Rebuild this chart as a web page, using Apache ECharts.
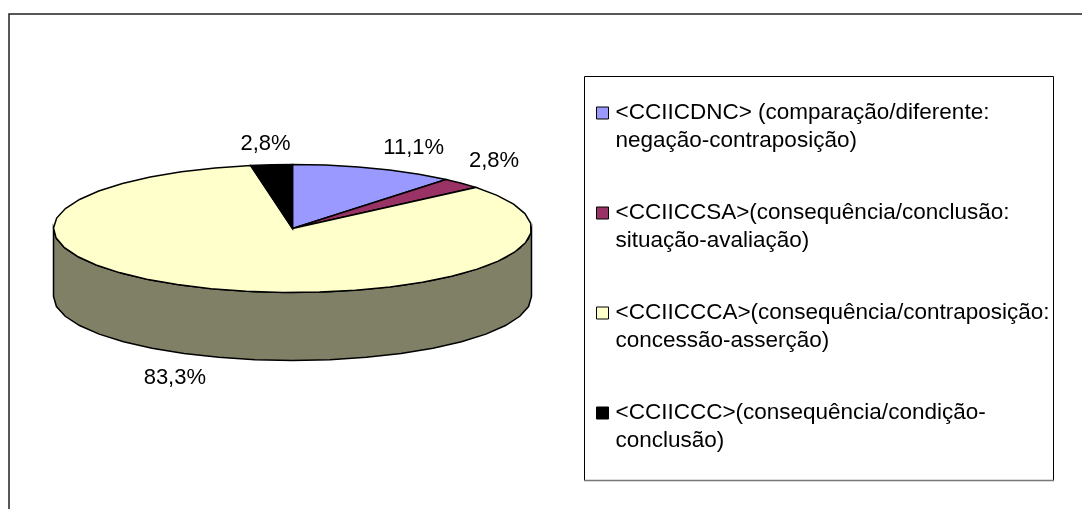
<!DOCTYPE html>
<html>
<head>
<meta charset="utf-8">
<style>
  html, body { margin: 0; background: #fff; }
  #chart { width: 1082px; height: 509px; }
</style>
<script src="https://cdn.jsdelivr.net/npm/echarts@6/dist/echarts.min.js"></script>
</head>
<body>
<div id="chart"></div>
<script>
const categories = [
  '<CCIICDNC> (comparação/diferente:\nnegação-contraposição)',
  '<CCIICCSA>(consequência/conclusão:\nsituação-avaliação)',
  '<CCIICCCA>(consequência/contraposição:\nconcessão-asserção)',
  '<CCIICCC>(consequência/condição-\nconclusão)'
];
const values = [11.1, 2.8, 83.3, 2.8];
const colors = ['#9999ff', '#993366', '#ffffcc', '#000000'];

// pie geometry, px
const cx = 292.5, cy = 228.5, rx = 239, ry = 64, depth = 68;
const font = '"Liberation Sans", Arial, sans-serif';
// label centre relative to the middle of each slice's outer edge
const labelOffsets = [[39.5, -20], [32.5, -22.5], [-36, 89], [-6, -21]];

const total = values.reduce((a, b) => a + b, 0);

function edge(deg, drop) {
  const r = deg * Math.PI / 180;
  return [cx + rx * Math.sin(r), cy - ry * Math.cos(r) + (drop || 0)];
}

// the reference outline is a coarse polyline, so keep the steps wide
function arc(from, to, drop) {
  const pts = [];
  const n = Math.max(1, Math.ceil((to - from) / 9));
  for (let i = 0; i <= n; i++) pts.push(edge(from + (to - from) * i / n, drop));
  return pts;
}

function shade(hex) {
  const c = parseInt(hex.slice(1), 16);
  const half = v => Math.round(v / 2);
  return `rgb(${half(c >> 16)},${half((c >> 8) & 255)},${half(c & 255)})`;
}

function slice(index) {
  const start = values.slice(0, index).reduce((a, b) => a + b, 0) / total * 360;
  const end = start + values[index] / total * 360;
  const mid = (start + end) / 2;
  return function () {
    const children = [];
    const from = Math.max(start, 90), to = Math.min(end, 270);
    if (to > from) {
      children.push({
        type: 'polygon',
        shape: { points: arc(from, to, 0).concat(arc(from, to, depth).reverse()) },
        style: { fill: shade(colors[index]), stroke: '#000', lineWidth: 1.5 }
      });
    }
    children.push({
      type: 'polygon',
      shape: { points: [[cx, cy]].concat(arc(start, end, 0)) },
      style: { fill: colors[index], stroke: '#000', lineWidth: 1.5 }
    });
    const p = edge(mid, 0);
    children.push({
      type: 'text',
      style: {
        x: p[0] + labelOffsets[index][0],
        y: p[1] + labelOffsets[index][1],
        text: values[index].toFixed(1).replace('.', ',') + '%',
        align: 'center',
        verticalAlign: 'middle',
        fill: '#000',
        font: '22px ' + font
      }
    });
    return { type: 'group', children: children };
  };
}

const chart = echarts.init(document.getElementById('chart'));
chart.setOption({
  animation: false,
  color: colors,
  graphic: [
    {
      type: 'rect',
      silent: true,
      z: -1,
      shape: { x: 9, y: 14, width: 1200, height: 700 },
      style: { fill: '#fff', stroke: '#222', lineWidth: 1.5 }
    },
    {
      type: 'rect',
      silent: true,
      z: -1,
      shape: { x: 584.5, y: 76.5, width: 469, height: 404 },
      style: { fill: '#fff', stroke: '#000', lineWidth: 1 }
    },
    {
      type: 'line',
      silent: true,
      shape: { x1: 584, y1: 480.5, x2: 1054, y2: 480.5 },
      style: { stroke: '#777', lineWidth: 1.5 }
    }
  ],
  legend: {
    orient: 'vertical',
    left: 596,
    top: 71,
    padding: 0,
    itemWidth: 12,
    itemHeight: 12,
    itemGap: 16,
    icon: 'rect',
    selectedMode: false,
    itemStyle: { borderColor: '#000', borderWidth: 1 },
    // blank first line keeps the marker level with the first text line
    formatter: name => '\n' + name,
    textStyle: {
      fontFamily: font,
      fontSize: 22.5,
      color: '#000',
      lineHeight: 28,
      padding: [0, 0, 0, 2]
    },
    data: categories
  },
  series: categories.map((name, i) => ({
    type: 'custom',
    name: name,
    coordinateSystem: 'none',
    data: [[values[i]]],
    renderItem: slice(i)
  }))
});
</script>
</body>
</html>
